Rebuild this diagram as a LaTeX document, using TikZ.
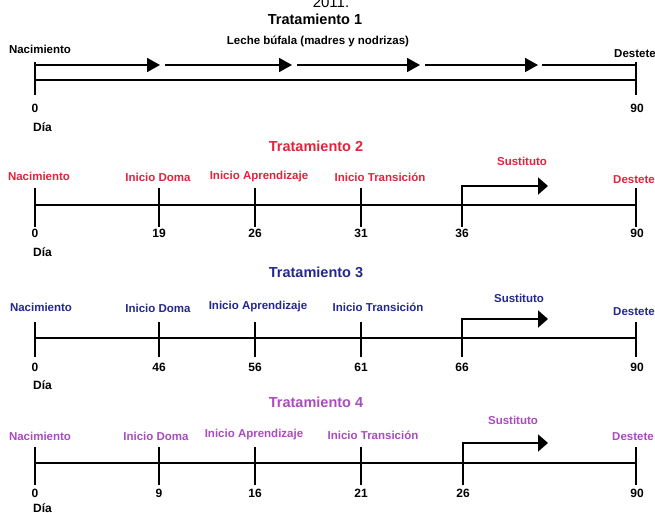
\documentclass[tikz,border=0pt]{standalone}
\usepackage{fontspec}
\setmainfont{Liberation Sans}
\usetikzlibrary{arrows.meta}
\definecolor{tred}{RGB}{225,35,60}
\definecolor{tblue}{RGB}{35,40,140}
\definecolor{tpurple}{RGB}{170,75,190}
\begin{document}
\begin{tikzpicture}[x=1pt,y=-1pt,
 lbl/.style={font=\bfseries\fontsize{11.5}{13}\selectfont, inner sep=0pt},
 ttl/.style={font=\bfseries\fontsize{14.5}{16}\selectfont, inner sep=0pt},
 num/.style={font=\bfseries\fontsize{12}{14}\selectfont, inner sep=0pt},
 axis/.style={line width=1.8pt},
 seg/.style={line width=1.8pt, -{Triangle[length=13pt,width=14pt]}},
 sub/.style={line width=1.8pt, -{Triangle[length=10pt,width=17pt]}}]
\useasboundingbox (0,0) rectangle (655,513);

% ---------- Tratamiento 1 ----------
\node[font=\fontsize{15}{17}\selectfont, anchor=base, inner sep=0pt] (yr) at (331,8) {2011.};
\node[ttl] (t1) at (315,19) {Tratamiento 1};
\node[lbl] (leche) at (318,41) {Leche búfala (madres y nodrizas)};
\node[lbl] (n1) at (40,49) {Nacimiento};
\node[lbl] (d1) at (635,54) {Destete};
\coordinate (a1t) at (35,62); \coordinate (a1b) at (35,95);
\coordinate (b1t) at (636,62); \coordinate (b1b) at (636,95);
\draw[axis] (a1t) -- (a1b);
\draw[axis] (b1t) -- (b1b);
\coordinate (u0) at (35,65);
\coordinate (u1) at (160,65); \coordinate (v1) at (165,65);
\coordinate (u2) at (292,65); \coordinate (v2) at (297,65);
\coordinate (u3) at (420,65); \coordinate (v3) at (425,65);
\coordinate (u4) at (538,65); \coordinate (v4) at (542,65);
\coordinate (u5) at (636,65);
\draw[seg] (u0) -- (u1);
\draw[seg] (v1) -- (u2);
\draw[seg] (v2) -- (u3);
\draw[seg] (v3) -- (u4);
\draw[axis] (v4) -- (u5);
\coordinate (l0) at (35,80); \coordinate (l1) at (636,80);
\draw[axis] (l0) -- (l1);
\node[num] (z1) at (35,108) {0};
\node[num] (e1) at (637,108) {90};
\node[num, anchor=west] (dia1) at (33,127) {Día};

% ---------- Tratamiento 2 ----------
\begin{scope}[text=tred]
\node[ttl] (t2) at (316,146) {Tratamiento 2};
\node[lbl] (n2) at (39,176) {Nacimiento};
\node[lbl] (do2) at (158,177) {Inicio Doma};
\node[lbl] (ap2) at (259,177) {Inicio Aprendizaje};
\node[lbl] (tr2) at (380,177) {Inicio Transición};
\node[lbl] (su2) at (522,161) {Sustituto};
\node[lbl] (d2) at (634,180) {Destete};
\end{scope}
\coordinate (m2a) at (35,205); \coordinate (m2b) at (636,205);
\draw[axis] (m2a) -- (m2b);
\foreach \x/\n in {35/a,159/b,255/c,361/d,636/f}{
  \coordinate (k2\n t) at (\x,188); \coordinate (k2\n b) at (\x,227);
  \draw[axis] (k2\n t) -- (k2\n b);}
\coordinate (s2b) at (462,227); \coordinate (s2c) at (462,186); \coordinate (s2e) at (548,186);
\draw[sub] (s2b) -- (s2c) -- (s2e);
\foreach \x/\v/\n in {35/0/a,159/19/b,255/26/c,361/31/d,462/36/e,637/90/f}
  \node[num] (q2\n) at (\x,233) {\v};
\node[num, anchor=west] (dia2) at (33,252) {Día};

% ---------- Tratamiento 3 ----------
\begin{scope}[text=tblue]
\node[ttl] (t3) at (316,272) {Tratamiento 3};
\node[lbl] (n3) at (41,307) {Nacimiento};
\node[lbl] (do3) at (158,308) {Inicio Doma};
\node[lbl] (ap3) at (258,307) {Inicio Aprendizaje};
\node[lbl] (tr3) at (378,307) {Inicio Transición};
\node[lbl] (su3) at (519,298) {Sustituto};
\node[lbl] (d3) at (634,312) {Destete};
\end{scope}
\coordinate (m3a) at (35,338); \coordinate (m3b) at (636,338);
\draw[axis] (m3a) -- (m3b);
\foreach \x/\n in {35/a,159/b,255/c,361/d,636/f}{
  \coordinate (k3\n t) at (\x,322); \coordinate (k3\n b) at (\x,357);
  \draw[axis] (k3\n t) -- (k3\n b);}
\coordinate (s3b) at (462,357); \coordinate (s3c) at (462,319); \coordinate (s3e) at (548,319);
\draw[sub] (s3b) -- (s3c) -- (s3e);
\foreach \x/\v/\n in {35/0/a,159/46/b,255/56/c,361/61/d,462/66/e,637/90/f}
  \node[num] (q3\n) at (\x,367) {\v};
\node[num, anchor=west] (dia3) at (33,385) {Día};

% ---------- Tratamiento 4 ----------
\begin{scope}[text=tpurple]
\node[ttl] (t4) at (316,402) {Tratamiento 4};
\node[lbl] (n4) at (40,436) {Nacimiento};
\node[lbl] (do4) at (156,436) {Inicio Doma};
\node[lbl] (ap4) at (254,435) {Inicio Aprendizaje};
\node[lbl] (tr4) at (373,435) {Inicio Transición};
\node[lbl] (su4) at (513,420) {Sustituto};
\node[lbl] (d4) at (633,437) {Destete};
\end{scope}
\coordinate (m4a) at (35,463); \coordinate (m4b) at (636,463);
\draw[axis] (m4a) -- (m4b);
\foreach \x/\n in {35/a,159/b,255/c,361/d,636/f}{
  \coordinate (k4\n t) at (\x,447); \coordinate (k4\n b) at (\x,485);
  \draw[axis] (k4\n t) -- (k4\n b);}
\coordinate (s4b) at (463,485); \coordinate (s4c) at (463,443); \coordinate (s4e) at (548,443);
\draw[sub] (s4b) -- (s4c) -- (s4e);
\foreach \x/\v/\n in {35/0/a,159/9/b,255/16/c,361/21/d,463/26/e,637/90/f}
  \node[num] (q4\n) at (\x,493) {\v};
\node[num, anchor=west] (dia4) at (33,508) {Día};
\end{tikzpicture}
\end{document}
